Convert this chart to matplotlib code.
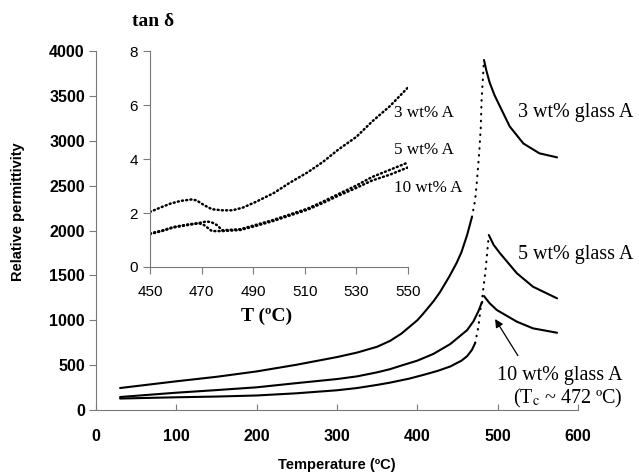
import matplotlib.pyplot as plt

# main curves: relative permittivity vs temperature
t_3 = [30, 100, 150, 200, 250, 300, 325, 350, 366, 380, 400, 407, 420, 428, 440, 449, 455, 462, 468,
       472, 474, 477, 479, 480, 483, 486, 490, 496, 503, 515, 532, 552, 574]
eps_3 = [245, 320, 370, 430, 505, 590, 640, 705, 770, 850, 1000, 1070, 1210, 1310, 1490, 1640, 1760, 1950, 2150,
         2340, 2530, 2860, 3150, 3450, 3900, 3780, 3650, 3510, 3380, 3160, 2970, 2860, 2815]

t_5 = [30, 100, 150, 200, 250, 300, 325, 350, 366, 380, 400, 420, 441, 462, 470, 476, 480,
       485, 489, 495, 503, 524, 544, 574]
eps_5 = [145, 193, 222, 253, 300, 345, 375, 420, 455, 495, 550, 625, 735, 890, 990, 1100, 1190,
         1560, 1950, 1840, 1746, 1523, 1374, 1244]

t_10 = [30, 100, 150, 200, 249, 300, 325, 350, 366, 390, 407, 425, 441, 455, 462, 468, 472, 476, 479, 483,
        490, 499, 524, 544, 574]
eps_10 = [128, 142, 150, 162, 186, 220, 245, 280, 305, 350, 390, 435, 485, 550, 600, 670, 746, 925, 1150, 1270,
          1190, 1114, 984, 910, 861]

# inset: tan delta
ti_3 = [450, 454, 458, 462, 466, 468, 471, 474, 478, 482, 486, 491, 498, 504, 511, 517, 523, 530, 536, 543, 550]
tan_3 = [2.04, 2.2, 2.35, 2.45, 2.50, 2.47, 2.29, 2.14, 2.10, 2.10, 2.2, 2.41, 2.74, 3.11, 3.50, 3.89,
         4.35, 4.82, 5.38, 5.96, 6.65]
ti_5 = [450, 455, 459, 465, 469, 472, 474, 476, 478, 485, 491, 498, 504, 511, 517, 523, 530, 536, 543, 550]
tan_5 = [1.24, 1.36, 1.48, 1.58, 1.63, 1.69, 1.65, 1.55, 1.36, 1.40, 1.56, 1.75, 1.94, 2.16, 2.42, 2.70,
         3.02, 3.33, 3.60, 3.87]
ti_10 = [450, 455, 459, 465, 469, 471, 474, 478, 485, 491, 498, 504, 511, 517, 523, 530, 536, 543, 550]
tan_10 = [1.22, 1.34, 1.46, 1.56, 1.62, 1.55, 1.33, 1.33, 1.37, 1.52, 1.71, 1.90, 2.12, 2.37, 2.64,
          2.93, 3.20, 3.42, 3.69]

main_labels = ["3 wt% glass A", "5 wt% glass A", "10 wt% glass A"]
inset_labels = ["3 wt% A", "5 wt% A", "10 wt% A"]

plt.rcParams['font.family'] = ['Liberation Sans', 'DejaVu Sans']
plt.rcParams['mathtext.fontset'] = 'stix'
fig = plt.figure(figsize=(6.39, 4.75), dpi=100)
ax = fig.add_axes([0.1502, 0.1368, 0.7543, 0.7558])

axis_grey = '#7a7a7a'


def draw_main(t, e, j0, j1):
    # solid where points are dense, dotted across the jump to the peak
    ax.plot(t[:j0 + 1], e[:j0 + 1], color='black', lw=1.5, solid_capstyle='round')
    ax.plot(t[j0:j1 + 1], e[j0:j1 + 1], color='black', lw=1.5,
            linestyle=(0, (0.3, 3.0)), dash_capstyle='round')
    ax.plot(t[j1:], e[j1:], color='black', lw=1.5, solid_capstyle='round')


draw_main(t_3, eps_3, 18, 24)
draw_main(t_5, eps_5, 16, 18)
draw_main(t_10, eps_10, 16, 19)

ax.set_xlim(0, 600)
ax.set_ylim(0, 4000)
ax.set_xticks(range(0, 601, 100))
ax.set_yticks(range(0, 4001, 500))
for s in ['top', 'right']:
    ax.spines[s].set_visible(False)
for s in ['left', 'bottom']:
    ax.spines[s].set_color(axis_grey)
ax.tick_params(axis='x', direction='in', length=4, color=axis_grey, labelsize=11.5, pad=14)
ax.tick_params(axis='y', direction='out', length=5, color=axis_grey, labelsize=11.5, pad=3)
for lab in ax.get_xticklabels() + ax.get_yticklabels():
    lab.set_fontweight('bold')
ax.set_xlabel("Temperature (ºC)", fontsize=10.5, fontweight='bold', labelpad=10)
ax.set_ylabel("Relative permittivity", fontsize=10.5, fontweight='bold')
ax.yaxis.set_label_coords(-0.147, 0.552)

serif = ['Liberation Serif', 'DejaVu Serif']
ax.text(525, 3310, main_labels[0], family=serif, fontsize=14.5, va='center', clip_on=False)
ax.text(525, 1738, main_labels[1], family=serif, fontsize=14.5, va='center', clip_on=False)
ax.text(499, 390, main_labels[2], family=serif, fontsize=14.5, va='center', clip_on=False)
ax.text(588, 134, "(T$_\\mathrm{c}$ ~ 472 ºC)", family=serif, fontsize=14.5, va='center', ha='center',
        clip_on=False)
ax.annotate("", xy=(495, 1040), xytext=(527, 580),
            arrowprops=dict(arrowstyle='-|>', color='black', lw=0.9, mutation_scale=12))

# inset
axi = fig.add_axes([0.2347, 0.4379, 0.4038, 0.4547])
axi.patch.set_alpha(0)
for t, v in [(ti_3, tan_3), (ti_5, tan_5), (ti_10, tan_10)]:
    axi.plot(t, v, color='black', lw=1.8, linestyle=(0, (0.4, 1.3)), dash_capstyle='round')
axi.set_xlim(450, 550)
axi.set_ylim(0, 8)
axi.set_xticks(range(450, 551, 20))
axi.set_yticks(range(0, 9, 2))
for s in ['top', 'right']:
    axi.spines[s].set_visible(False)
for s in ['left', 'bottom']:
    axi.spines[s].set_color(axis_grey)
axi.tick_params(direction='out', length=5, color=axis_grey, labelsize=11)
axi.tick_params(axis='x', pad=8)
axi.text(0.453, -49 / 216, "T (ºC)", transform=axi.transAxes, family=serif, fontsize=14,
         fontweight='bold', ha='center', va='center')
axi.text(544.5, 5.69, inset_labels[0], family=serif, fontsize=12.3, va='center', clip_on=False)
axi.text(544.5, 4.32, inset_labels[1], family=serif, fontsize=12.3, va='center', clip_on=False)
axi.text(544.5, 2.91, inset_labels[2], family=serif, fontsize=12.3, va='center', clip_on=False)
fig.text(132 / 639, 1 - 21 / 475, "tan δ", family=serif, fontsize=14, fontweight='bold', va='center')

fig.savefig("out.png", dpi=100)
